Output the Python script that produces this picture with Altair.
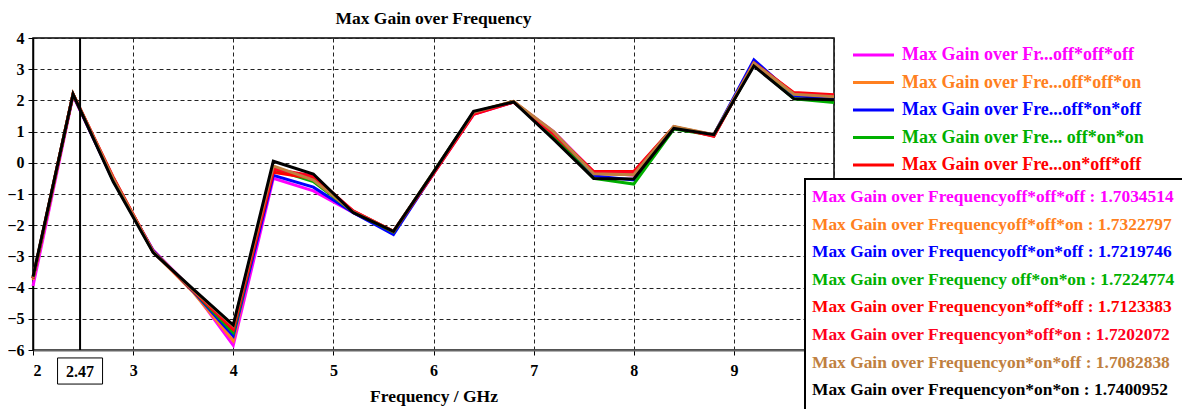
import altair as alt
import pandas as pd

freq = [2.0, 2.4, 2.8, 3.2, 3.6, 4.0, 4.4, 4.8, 5.2, 5.6, 6.0,
        6.4, 6.8, 7.2, 7.6, 8.0, 8.4, 8.8, 9.2, 9.6, 10.0]

series_names = ["off*off*off", "off*off*on", "off*on*off", "off*on*on",
                "on*off*off", "on*off*on", "on*on*off", "on*on*on"]
series_colors = ["#FF00FF", "#FF8020", "#0000FF", "#00B000",
                 "#FF0000", "#FF0020", "#C08040", "#000000"]

g_off_off_off = [-3.95, 2.15, -0.55, -2.80, -4.10, -5.85, -0.50, -0.90, -1.60, -2.25, -0.35,
                 1.55, 1.95, 1.00, -0.30, -0.40, 1.15, 0.88, 3.25, 2.20, 2.10]
g_off_off_on = [-3.75, 2.18, -0.50, -2.85, -4.15, -5.70, -0.15, -0.55, -1.58, -2.22, -0.32,
                1.60, 1.97, 0.95, -0.35, -0.38, 1.15, 0.90, 3.22, 2.20, 2.12]
g_off_on_off = [-3.70, 2.18, -0.55, -2.82, -4.12, -5.55, -0.40, -0.78, -1.60, -2.30, -0.33,
                1.60, 1.95, 0.90, -0.42, -0.55, 1.12, 0.90, 3.30, 2.15, 2.08]
g_off_on_on = [-3.70, 2.20, -0.55, -2.85, -4.10, -5.45, -0.20, -0.60, -1.58, -2.22, -0.30,
               1.62, 1.95, 0.85, -0.50, -0.68, 1.08, 0.88, 3.15, 2.05, 1.93]
g_on_off_off = [-3.70, 2.20, -0.45, -2.85, -4.10, -5.35, -0.30, -0.50, -1.55, -2.20, -0.35,
                1.55, 1.95, 0.95, -0.28, -0.28, 1.15, 0.85, 3.20, 2.25, 2.18]
g_on_off_on = [-3.70, 2.20, -0.48, -2.85, -4.10, -5.30, -0.20, -0.42, -1.55, -2.20, -0.33,
               1.58, 1.95, 0.92, -0.30, -0.32, 1.15, 0.86, 3.18, 2.22, 2.15]
g_on_on_off = [-3.68, 2.20, -0.50, -2.85, -4.08, -5.22, -0.10, -0.55, -1.58, -2.20, -0.30,
               1.62, 1.97, 1.00, -0.35, -0.38, 1.17, 0.90, 3.20, 2.20, 2.12]
g_on_on_on = [-3.65, 2.20, -0.60, -2.88, -4.05, -5.20, 0.05, -0.36, -1.60, -2.20, -0.30,
              1.65, 1.95, 0.75, -0.50, -0.52, 1.10, 0.90, 3.10, 2.05, 2.02]

all_gains = [g_off_off_off, g_off_off_on, g_off_on_off, g_off_on_on,
             g_on_off_off, g_on_off_on, g_on_on_off, g_on_on_on]

legend_short_labels = ["Max Gain over Fr...off*off*off", "Max Gain over Fre...off*off*on",
                       "Max Gain over Fre...off*on*off", "Max Gain over Fre... off*on*on",
                       "Max Gain over Fre...on*off*off"]

box_labels = ["Max Gain over Frequencyoff*off*off", "Max Gain over Frequencyoff*off*on",
              "Max Gain over Frequencyoff*on*off", "Max Gain over Frequency off*on*on",
              "Max Gain over Frequencyon*off*off", "Max Gain over Frequencyon*off*on",
              "Max Gain over Frequencyon*on*off", "Max Gain over Frequencyon*on*on"]
box_values = ["1.7034514", "1.7322797", "1.7219746", "1.7224774",
              "1.7123383", "1.7202072", "1.7082838", "1.7400952"]

marker_freq = [2.47]
x_ticks = [2, 3, 4, 5, 6, 7, 8, 9, 10]
y_ticks = [-6, -5, -4, -3, -2, -1, 0, 1, 2, 3, 4]

FONT = "Liberation Serif"

rows = []
for s, name in enumerate(series_names):
    for f, g in zip(freq, all_gains[s]):
        rows.append({"freq": f, "gain": g, "series": name, "s": s})
df = pd.DataFrame(rows)

color_scale = alt.Scale(domain=series_names, range=series_colors)

lines = alt.Chart(df).mark_line(strokeWidth=3, clip=False).encode(
    x=alt.X("freq:Q", scale=alt.Scale(domain=[2, 10], nice=False, zero=False),
            axis=alt.Axis(values=x_ticks, title="Frequency / GHz", format="d",
                          labelExpr="datum.value == 10 ? '' : datum.label",
                          zindex=0)),
    y=alt.Y("gain:Q", scale=alt.Scale(domain=[-6, 4], nice=False, zero=False),
            axis=alt.Axis(values=y_ticks, title=None, format="d", zindex=0)),
    color=alt.Color("series:N", scale=color_scale, legend=None),
    detail="s:O",
)

marker_df = pd.DataFrame({"f": marker_freq, "lab": [str(v) for v in marker_freq]})
marker_rule = alt.Chart(marker_df).mark_rule(color="black", strokeWidth=2).encode(x="f:Q")
marker_box = alt.Chart(marker_df).mark_point(
    shape="M-1,-0.58L1,-0.58L1,0.58L-1,0.58Z", size=2025, filled=False,
    stroke="black", strokeWidth=1, opacity=1, clip=False
).encode(x="f:Q", y=alt.value(333))
marker_text = alt.Chart(marker_df).mark_text(
    font=FONT, fontSize=16, fontWeight="bold", color="black", baseline="middle", clip=False
).encode(x="f:Q", y=alt.value(334), text="lab:N")

leg_df = pd.DataFrame({"lab": legend_short_labels,
                       "series": series_names[:len(legend_short_labels)],
                       "i": list(range(len(legend_short_labels)))})
leg_rules = alt.Chart(leg_df).mark_rule(strokeWidth=3, clip=False).transform_calculate(
    ly="17 + datum.i * 27.5"
).encode(x=alt.value(820), x2=alt.value(861), y=alt.Y("ly:Q", scale=None),
         color=alt.Color("series:N", scale=color_scale, legend=None))
leg_text = alt.Chart(leg_df).mark_text(
    font=FONT, fontSize=18, fontWeight="bold", align="left", baseline="middle", clip=False
).transform_calculate(ly="17 + datum.i * 27.5").encode(
    x=alt.value(869), y=alt.Y("ly:Q", scale=None), text="lab:N",
    color=alt.Color("series:N", scale=color_scale, legend=None))

box_rect = alt.Chart(pd.DataFrame({"a": [0]})).mark_rect(
    fill="white", stroke="black", strokeWidth=2, clip=False
).encode(x=alt.value(772), x2=alt.value(1200), y=alt.value(141), y2=alt.value(420))

box_df = pd.DataFrame({"lab": [f"{l} : {v}" for l, v in zip(box_labels, box_values)],
                       "series": series_names, "i": list(range(len(box_labels)))})
box_text = alt.Chart(box_df).mark_text(
    font=FONT, fontSize=17.4, fontWeight="bold", align="left", baseline="middle", clip=False
).transform_calculate(ly="159 + datum.i * 27.6").encode(
    x=alt.value(779), y=alt.Y("ly:Q", scale=None), text="lab:N",
    color=alt.Color("series:N", scale=color_scale, legend=None))

chart = alt.layer(
    lines, marker_rule, marker_box, marker_text, leg_rules, leg_text, box_rect, box_text
).properties(
    width=801, height=312,
    title=alt.TitleParams("Max Gain over Frequency", font=FONT, fontSize=17.5,
                          fontWeight="bold", anchor="middle", offset=3, color="black"),
    autosize=alt.AutoSizeParams(type="none"),
    padding={"left": 25, "top": 30, "right": 348, "bottom": 59},
).configure_view(
    stroke="black", strokeWidth=1.5
).configure_axis(
    labelFont=FONT, labelFontSize=16, labelFontWeight="bold", labelColor="black",
    titleFont=FONT, titleFontSize=17.5, titleFontWeight="bold", titleColor="black",
    grid=True, gridColor="#222222", gridDash=[4, 3], gridWidth=1, gridOpacity=1,
    tickColor="black", tickSize=5, domainColor="black", domainWidth=1.5,
).configure_axisX(
    labelPadding=7, titlePadding=9, domainColor="#666666", domainWidth=2,
).configure_axisY(
    labelPadding=4,
)

chart.save("out.html", embed_options={"renderer": "svg", "actions": False})
